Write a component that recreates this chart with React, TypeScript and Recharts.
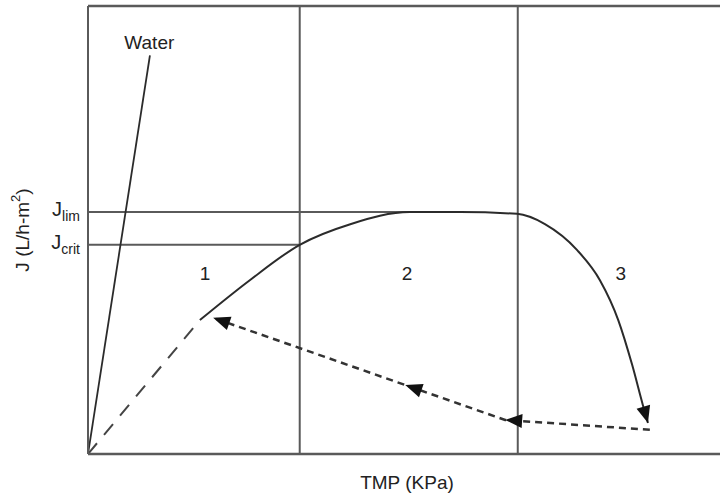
import React from "react";
import {
  ComposedChart,
  Line,
  XAxis,
  YAxis,
  ReferenceLine,
  ReferenceDot,
} from "recharts";

// reference levels on the flux axis
const jLim = 54;
const jCrit = 46.7;
const fluxTicks = [jCrit, jLim];

// region boundaries on the TMP axis
const regionBounds = [33.5, 68];
const regionLabels = [
  { x: 18.5, y: 40.4, text: "1" },
  { x: 50.5, y: 40.4, text: "2" },
  { x: 84.3, y: 40.4, text: "3" },
];

// pure water flux line
const waterTmp = [0, 9.8];
const waterFlux = [0, 89];

// low-pressure (dashed) part of the curve
const dashTmp = [0, 17.7];
const dashFlux = [0, 29.9];

// flux vs TMP curve
const curveTmp = [17.7, 25.6, 33.5, 41.5, 50.9, 58.9, 67.9, 72.3, 77.4, 81.0, 83.9, 86.1, 87.8, 88.6];
const curveFlux = [29.9, 38.8, 46.7, 51.3, 54.0, 54.0, 53.6, 51.3, 45.5, 38.8, 29.9, 19.9, 10.9, 6.9];

// return path when pressure is lowered again
const backTmp = [88.9, 66.0, 50.2, 19.8];
const backFlux = [5.4, 7.6, 15.4, 30.4];

const zip = (xs: number[], ys: number[]) => xs.map((x, i) => ({ x, y: ys[i] }));
const water = zip(waterTmp, waterFlux);
const dashed = zip(dashTmp, dashFlux);
const curve = zip(curveTmp, curveFlux);
const back = zip(backTmp, backFlux);

const W = 720;
const H = 495;
const M = { top: 6, right: 0, left: 0, bottom: 0 };
const Y_W = 88;
const X_H = 41;
const KX = (W - Y_W - M.right) / 100;
const KY = (H - M.top - X_H) / 100;

const INK = "#2b2b2b";
const FRAME = "#5a5a5a";
const FONT = "'Liberation Sans', Arial, sans-serif";

function arrowDot(pts: { x: number; y: number }[], at: number[]) {
  return (props: any) => {
    const { cx, cy, index } = props;
    if (!at.includes(index) || index < 1) return <g key={`d${index}`} />;
    const p = pts[index - 1];
    const q = pts[index];
    const ang = (Math.atan2(-(q.y - p.y) * KY, (q.x - p.x) * KX) * 180) / Math.PI;
    return (
      <polygon
        key={`a${index}`}
        points="0,0 -17,-7 -17,7"
        fill="#111"
        transform={`translate(${cx},${cy}) rotate(${ang})`}
      />
    );
  };
}

const JTick = (props: any) => {
  const { x, y, payload } = props;
  const sub = payload.value === jLim ? "lim" : "crit";
  return (
    <text x={x} y={y} textAnchor="end" fontFamily={FONT} fill="#222" fontSize={20}>
      <tspan dy={4}>J</tspan>
      <tspan dy={5} fontSize={14}>
        {sub}
      </tspan>
    </text>
  );
};

const YLabel = (props: any) => {
  const vb = props.viewBox || { y: 6, height: 448 };
  const cy = vb.y + vb.height / 2;
  return (
    <text
      x={22}
      y={cy}
      textAnchor="middle"
      dominantBaseline="central"
      transform={`rotate(-90, 22, ${cy})`}
      fontFamily={FONT}
      fontSize={19}
      fill="#222"
    >
      J (L/h-m
      <tspan fontSize={13} dy={-7}>
        2
      </tspan>
      <tspan dy={7}>)</tspan>
    </text>
  );
};

const XLabel = (props: any) => {
  const vb = props.viewBox || { x: 88, width: 632 };
  const cx = vb.x + vb.width / 2 + 3;
  return (
    <text x={cx} y={489} textAnchor="middle" fontFamily={FONT} fontSize={19} fill="#222">
      TMP (KPa)
    </text>
  );
};

export default function App() {
  return (
    <div style={{ position: "absolute", left: 0, top: 0, background: "#fff" }}>
      <ComposedChart width={W} height={H} margin={M}>
        <XAxis
          type="number"
          dataKey="x"
          domain={[0, 100]}
          allowDataOverflow
          height={X_H}
          tick={false}
          tickLine={false}
          axisLine={{ stroke: FRAME, strokeWidth: 2.5 }}
          label={<XLabel />}
        />
        <YAxis
          type="number"
          domain={[0, 100]}
          allowDataOverflow
          width={Y_W}
          ticks={fluxTicks}
          tick={<JTick />}
          tickLine={false}
          axisLine={{ stroke: FRAME, strokeWidth: 2 }}
          label={<YLabel />}
        />
        <ReferenceLine y={100} stroke={FRAME} strokeWidth={2.5} />
        {regionBounds.map((b) => (
          <ReferenceLine key={b} x={b} stroke={FRAME} strokeWidth={2} />
        ))}
        <ReferenceLine
          segment={[
            { x: 0, y: jLim },
            { x: 50.9, y: jLim },
          ]}
          stroke={FRAME}
          strokeWidth={2}
        />
        <ReferenceLine
          segment={[
            { x: 0, y: jCrit },
            { x: regionBounds[0], y: jCrit },
          ]}
          stroke={FRAME}
          strokeWidth={2}
        />
        {regionLabels.map((r) => (
          <ReferenceDot
            key={r.text}
            x={r.x}
            y={r.y}
            r={0}
            stroke="none"
            label={{ value: r.text, position: "center", fontSize: 19, fill: "#222", fontFamily: FONT }}
          />
        ))}
        <ReferenceDot
          x={9.7}
          y={92}
          r={0}
          stroke="none"
          label={{ value: "Water", position: "center", fontSize: 19, fill: "#222", fontFamily: FONT }}
        />
        <Line
          data={water}
          dataKey="y"
          type="linear"
          stroke={INK}
          strokeWidth={1.8}
          dot={false}
          activeDot={false}
          isAnimationActive={false}
        />
        <Line
          data={dashed}
          dataKey="y"
          type="linear"
          stroke="#444"
          strokeWidth={2}
          strokeDasharray="14 11"
          dot={false}
          activeDot={false}
          isAnimationActive={false}
        />
        <Line
          data={curve}
          dataKey="y"
          type="monotone"
          stroke={INK}
          strokeWidth={2}
          dot={arrowDot(curve, [curve.length - 1])}
          activeDot={false}
          isAnimationActive={false}
        />
        <Line
          data={back}
          dataKey="y"
          type="linear"
          stroke="#333"
          strokeWidth={2.5}
          strokeDasharray="7 5"
          dot={arrowDot(back, [1, 2, 3])}
          activeDot={false}
          isAnimationActive={false}
        />
      </ComposedChart>
    </div>
  );
}
